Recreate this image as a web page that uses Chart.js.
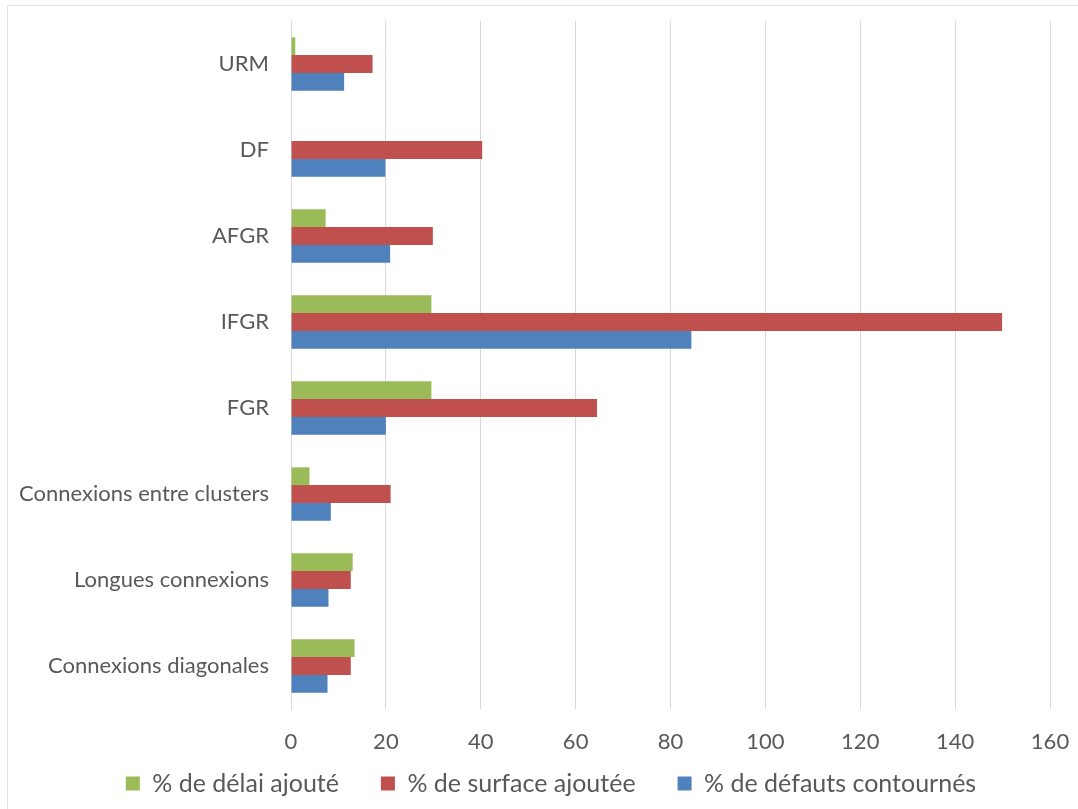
<!DOCTYPE html>
<html>
<head>
<meta charset="utf-8">
<script src="https://cdn.jsdelivr.net/npm/chart.js@4/dist/chart.umd.min.js"></script>
<style>
html,body{margin:0;padding:0;background:#fff;overflow:hidden;}
#wrap{position:relative;width:1078px;height:809px;overflow:hidden;}
#frame{position:absolute;left:7px;top:5px;width:2000px;height:2000px;border-left:1px solid #e3e3e3;border-top:1px solid #e3e3e3;pointer-events:none;}
canvas{position:absolute;left:0;top:0;}
</style>
</head>
<body>
<div id="wrap"><canvas id="c" width="1078" height="809"></canvas><div id="frame"></div></div>
<script>
const categories = ["URM","DF","AFGR","IFGR","FGR","Connexions entre clusters","Longues connexions","Connexions diagonales"];
const seriesNames = ["% de délai ajouté","% de surface ajoutée","% de défauts contournés"];
const delaiAjoute   = [0.9, 0, 7.3, 29.6, 29.6, 3.9, 13.0, 13.4];
const surfaceAjoutee = [17.2, 40.3, 29.9, 149.9, 64.5, 21.0, 12.6, 12.6];
const defautsContournes = [11.2, 19.9, 20.9, 84.4, 20.0, 8.4, 7.9, 7.7];
const xTicks = [0,20,40,60,80,100,120,140,160];

const FONT = "Lato, 'Open Sans', sans-serif";
const TXT = "#595959";
const GRID = "#d9d9d9";
const LEGEND_PAD = 42;
const LEGEND_H = 46;
const LEGEND_SHIFT_X = 26;
const LEGEND_SHIFT_Y = -34;

const chart = new Chart(document.getElementById('c'), {
  type: 'bar',
  data: {
    labels: categories,
    datasets: [
      {label: seriesNames[0], data: delaiAjoute, backgroundColor: '#9BBB59'},
      {label: seriesNames[1], data: surfaceAjoutee, backgroundColor: '#C0504D'},
      {label: seriesNames[2], data: defautsContournes, backgroundColor: '#4F81BD'}
    ]
  },
  options: {
    indexAxis: 'y',
    responsive: false,
    animation: false,
    devicePixelRatio: 1,
    datasets: { bar: { categoryPercentage: 0.62, barPercentage: 1.0 } },
    layout: { padding: { top: 21, right: 28, left: 0, bottom: 0 } },
    scales: {
      x: {
        min: 0, max: 160,
        afterBuildTicks: (s) => { s.ticks = xTicks.map(v => ({value: v})); },
        afterFit: (s) => { s.paddingLeft = 0; s.paddingRight = 0; s.height = 54; },
        grid: { color: GRID, lineWidth: 1, drawTicks: false },
        border: { display: false },
        ticks: { color: TXT, font: { family: FONT, size: 22 }, padding: 20 }
      },
      y: {
        grid: { display: false, drawTicks: false },
        border: { display: true, color: GRID },
        ticks: { color: TXT, font: { family: FONT, size: 22 }, padding: 22 },
        afterFit: (s) => { s.width = 291; s.paddingTop = 0; s.paddingBottom = 0; }
      }
    },
    plugins: {
      legend: {
        position: 'bottom',
        maxHeight: LEGEND_H,
        labels: { color: TXT, font: { family: FONT, size: 25 }, boxWidth: 14, boxHeight: 14, padding: LEGEND_PAD }
      },
      tooltip: { enabled: false }
    }
  }
});
// draw the legend row slightly offset: the wide item spacing would otherwise need a tall legend box
const lg = chart.legend;
lg.draw = function() {
  if (!this.options.display) return;
  const ctx = this.ctx;
  ctx.save();
  ctx.translate(LEGEND_SHIFT_X, LEGEND_SHIFT_Y);
  this._draw();
  ctx.restore();
};
chart.update();
</script>
</body>
</html>
